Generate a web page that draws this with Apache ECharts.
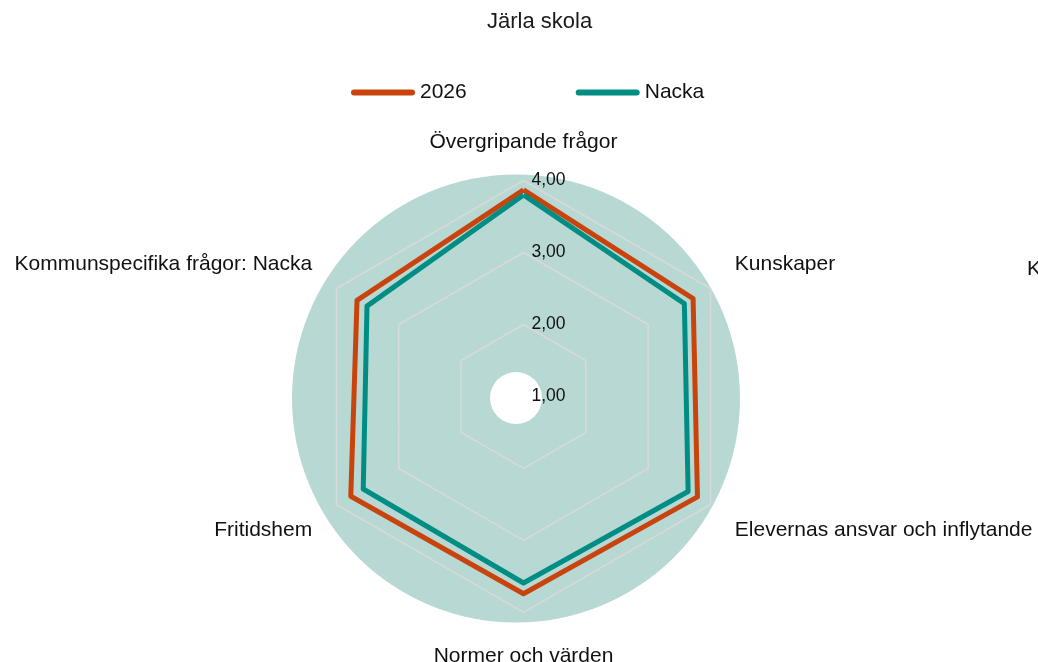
<!DOCTYPE html>
<html lang="sv">
<head>
  <meta charset="UTF-8">
  <title>Järla skola</title>
  <style>
    * { margin: 0; padding: 0; }
    #main { width: 1038px; height: 662px; background: #fff; }
  </style>
</head>
<body>
  <div id="main"></div>
  <script src="https://cdn.jsdelivr.net/npm/echarts@6/dist/echarts.min.js"></script>
  <script>
    // indikatorer, moturs från toppen (ordningen som radar ritar dem)
    const indicators = [
      'Övergripande frågor',
      'Kommunspecifika frågor: Nacka',
      'Fritidshem',
      'Normer och värden',
      'Elevernas ansvar och inflytande',
      'Kunskaper'
    ]
    const values2026 = [3.87, 3.67, 3.77, 3.74, 3.79, 3.72]
    const valuesNacka = [3.80, 3.51, 3.57, 3.59, 3.64, 3.58]
    const seriesNames = ['2026', 'Nacka']
    const scaleMin = 1
    const scaleMax = 4

    const font = '"Liberation Sans", Arial, sans-serif'
    const chart = echarts.init(document.getElementById('main'))

    // sidoetiketterna ligger lite högre/lägre än radar lägger dem
    const nameStyle = { fontFamily: font, fontSize: 21, color: '#111' }
    function nameKey(name) {
      const i = indicators.indexOf(name)
      if (i === 1 || i === 5) return 'up'
      if (i === 2 || i === 4) return 'down'
      if (i === 3) return 'bot'
      return 'mid'
    }

    const option = {
      animation: false,
      title: {
        text: 'Järla skola',
        left: 482,
        top: 6,
        textStyle: { fontFamily: font, fontSize: 22, fontWeight: 'normal', color: '#1a1a1a' }
      },
      legend: {
        data: seriesNames,
        left: 346,
        top: 77,
        itemWidth: 64,
        itemHeight: 6,
        itemGap: 109,
        icon: 'path://M3,0 H61 A3,3 0 0 1 61,6 H3 A3,3 0 0 1 3,0 Z',
        textStyle: { fontFamily: font, fontSize: 21, color: '#111' }
      },
      graphic: [
        // rund bakgrund och hål i mitten
        { type: 'circle', z: -100, silent: true, shape: { cx: 516, cy: 398.5, r: 224 }, style: { fill: '#b8d8d4' } },
        { type: 'circle', z: -99, silent: true, shape: { cx: 516, cy: 398, r: 26 }, style: { fill: '#ffffff' } },
        { type: 'text', z: 10, left: 1027, top: 259, style: { text: 'Kunskaper', fontFamily: font, fontSize: 21, fill: '#111' } }
      ],
      radar: {
        center: [523.5, 396.5],
        radius: 216,
        startAngle: 90,
        splitNumber: 3,
        shape: 'polygon',
        indicator: indicators.map((name, i) => ({
          name: name,
          min: scaleMin,
          max: scaleMax,
          axisLabel: { show: i === 0 }
        })),
        axisName: {
          color: '#111',
          fontFamily: font,
          fontSize: 21,
          formatter: name => '{' + nameKey(name) + '|' + name + '}',
          rich: {
            mid: nameStyle,
            up: Object.assign({ padding: [0, 0, 21, 0] }, nameStyle),
            down: Object.assign({ padding: [23, 0, 0, 0] }, nameStyle),
            bot: Object.assign({ padding: [5, 0, 0, 0] }, nameStyle)
          }
        },
        nameGap: 28,
        axisLine: { show: false },
        axisTick: { show: false },
        axisLabel: {
          show: false,
          color: '#111',
          fontFamily: font,
          fontSize: 17.5,
          margin: -8,
          align: 'left',
          formatter: v => v.toFixed(2).replace('.', ',')
        },
        splitLine: { lineStyle: { color: '#d9d9d9', width: 1.5 } },
        splitArea: { show: false }
      },
      series: [
        {
          type: 'radar',
          symbol: 'none',
          data: [
            { name: seriesNames[0], value: values2026, lineStyle: { color: '#c9440d', width: 5 }, itemStyle: { color: '#c9440d' } },
            { name: seriesNames[1], value: valuesNacka, lineStyle: { color: '#008d83', width: 5 }, itemStyle: { color: '#008d83' } }
          ]
        }
      ]
    }
    chart.setOption(option)
  </script>
</body>
</html>
